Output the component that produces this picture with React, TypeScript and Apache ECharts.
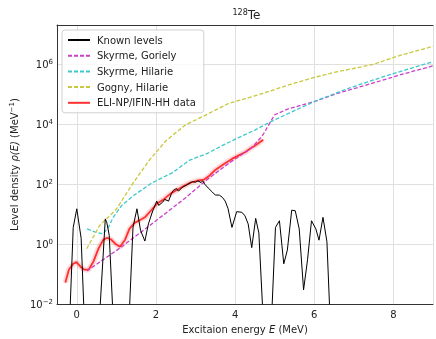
import React, { useEffect, useRef } from 'react';
import * as echarts from 'echarts';

// [E (MeV), rho (MeV^-1)]
const knownLevels: [number, number][] = [
  [-0.18, 0.003], [-0.09, 3.6], [0.0, 15], [0.11, 1.55], [0.19, 0.003],
  [0.57, 0.003], [0.72, 6.9], [0.76, 5.1], [0.82, 1.95], [0.92, 0.003],
  [1.32, 0.003], [1.42, 3.6], [1.52, 15], [1.61, 2.9], [1.72, 1.26], [1.81, 4.7],
  [1.92, 12.9], [2.02, 27], [2.07, 19.5], [2.17, 25], [2.22, 31], [2.32, 27],
  [2.39, 48], [2.44, 62], [2.52, 71], [2.57, 58], [2.67, 79], [2.79, 95],
  [2.92, 120], [3.0, 115], [3.06, 129], [3.14, 112], [3.18, 129], [3.23, 100],
  [3.32, 74], [3.42, 55], [3.5, 43], [3.6, 43], [3.68, 36], [3.75, 27],
  [3.82, 15.5], [3.92, 3.6], [4.04, 12], [4.17, 11.5], [4.25, 8.7], [4.33, 4.7],
  [4.42, 0.76], [4.52, 7.2], [4.6, 2.35], [4.71, 0.003], [4.92, 0.003],
  [5.02, 3.6], [5.12, 6], [5.23, 0.22], [5.32, 0.63], [5.43, 13.5], [5.52, 12.9],
  [5.62, 3.2], [5.73, 0.03], [5.83, 0.3], [5.93, 6], [6.04, 3.2], [6.12, 1.35],
  [6.22, 7.8], [6.32, 1.2], [6.4, 0.003],
];

const skyrmeGoriely: [number, number][] = [
  [0.25, 0.126], [1.08, 0.72], [2.0, 6.0], [2.75, 35], [3.33, 155], [3.9, 560],
  [4.42, 1600], [4.6, 3000], [4.71, 4500], [4.83, 8500], [5.0, 20400],
  [5.33, 31600], [6.0, 56000], [6.58, 105000], [7.42, 219000], [8.25, 468000],
  [9.0, 870000],
];

const skyrmeHilarie: [number, number][] = [
  [0.26, 3.2], [0.47, 2.5], [0.67, 2.2], [0.8, 3.6], [0.92, 7.8], [1.13, 19],
  [1.42, 40], [1.9, 110], [2.42, 240], [2.84, 620], [3.3, 1050], [3.67, 1900],
  [4.08, 3500], [4.5, 6300], [4.92, 12300], [5.5, 28000], [6.0, 56000],
  [6.83, 150000], [7.83, 410000], [9.0, 1200000],
];

const gognyHilarie: [number, number][] = [
  [0.25, 0.7], [0.58, 4.2], [1.0, 14.5], [1.42, 107], [1.83, 620], [2.25, 2750],
  [2.75, 9500], [3.17, 17500], [3.84, 49000], [4.26, 70000], [4.75, 110000],
  [5.4, 210000], [6.0, 360000], [6.5, 525000], [7.5, 980000], [8.08, 1800000],
  [9.0, 3900000],
];

const eliData: [number, number][] = [
  [-0.29, 0.052], [-0.2, 0.14], [-0.09, 0.22], [-0.01, 0.25], [0.09, 0.18],
  [0.19, 0.14], [0.3, 0.14], [0.42, 0.26], [0.55, 0.72], [0.67, 1.4], [0.76, 1.6],
  [0.86, 1.45], [0.99, 0.98], [1.09, 0.81], [1.22, 1.4], [1.33, 3.2], [1.46, 5.1],
  [1.61, 6.5], [1.72, 7.8], [1.87, 12.9], [2.04, 23], [2.21, 32], [2.37, 48],
  [2.54, 65], [2.71, 87], [2.87, 112], [3.04, 129], [3.21, 140], [3.35, 190],
  [3.5, 295], [3.7, 450], [3.92, 690], [4.08, 890], [4.25, 1150], [4.42, 1660],
  [4.5, 1900], [4.71, 3000],
];

const xTicks = [0, 2, 4, 6, 8];
const yDecadesLabeled = [-2, 0, 2, 4, 6];

const FONT = 'DejaVu Sans';
const TXT = '#222';

export default function App() {
  const ref = useRef<HTMLDivElement>(null);
  useEffect(() => {
    const chart = echarts.init(ref.current!, null, { renderer: 'svg' });
    const supRich = {
      b: { fontSize: 10, color: TXT, fontFamily: FONT, lineHeight: 12 },
      sup: { fontSize: 7, color: TXT, fontFamily: FONT, verticalAlign: 'top', lineHeight: 12 },
      i: { fontSize: 10, color: TXT, fontFamily: FONT, fontStyle: 'italic', lineHeight: 12 },
    };
    const dashed = (name: string, color: string, data: [number, number][]) => ({
      name,
      type: 'line',
      data,
      symbol: 'none',
      z: 3,
      lineStyle: { color, width: 1.3, type: [4, 2] },
      itemStyle: { color },
    });
    chart.setOption({
      animation: false,
      textStyle: { fontFamily: FONT },
      graphic: [
        {
          type: 'text',
          x: 246.5,
          y: 15,
          style: {
            text: '{sup|128}{t|Te}',
            align: 'center',
            verticalAlign: 'middle',
            rich: {
              t: { fontSize: 12, fontFamily: FONT, fill: TXT, color: TXT, lineHeight: 14 },
              sup: { fontSize: 8, fontFamily: FONT, fill: TXT, color: TXT, verticalAlign: 'top', lineHeight: 14 },
            },
          },
        },
      ],
      grid: { left: 57, right: 0, top: 25, bottom: 29, containLabel: false },
      legend: {
        left: 62,
        top: 30,
        orient: 'vertical',
        padding: [5, 8, 5, 5],
        itemWidth: 22,
        itemHeight: 10,
        itemGap: 5.7,
        backgroundColor: 'rgba(255,255,255,0.8)',
        borderColor: '#d0d0d0',
        borderWidth: 1,
        borderRadius: 3,
        itemStyle: { opacity: 0 },
        textStyle: { fontSize: 10, color: TXT, fontFamily: FONT, padding: [0, 0, 0, 2] },
        data: ['Known levels', 'Skyrme, Goriely', 'Skyrme, Hilarie', 'Gogny, Hilarie', 'ELI-NP/IFIN-HH data'],
      },
      xAxis: [
        {
          type: 'value',
          min: -0.5,
          max: 9,
          splitNumber: 5,
          name: 'Excitaion energy {i|E} (MeV)',
          nameLocation: 'middle',
          nameGap: 18,
          nameTextStyle: { fontSize: 10, color: TXT, fontFamily: FONT, rich: supRich },
          axisLine: { show: true, onZero: false, lineStyle: { color: '#333', width: 1 } },
          axisTick: { show: false },
          axisLabel: {
            fontSize: 10,
            color: TXT,
            margin: 5,
            formatter: (v: number) => (xTicks.indexOf(v) >= 0 ? String(v) : ''),
          },
          splitLine: { show: true, lineStyle: { color: '#e0e0e0', width: 1 } },
        },
        {
          type: 'value',
          position: 'top',
          min: -0.5,
          max: 9,
          axisLine: { show: true, onZero: false, lineStyle: { color: '#333', width: 1 } },
          axisTick: { show: false },
          axisLabel: { show: false },
          splitLine: { show: false },
        },
      ],
      yAxis: {
        type: 'log',
        logBase: 100,
        min: 0.01,
        max: 2e7,
        name: 'Level density {i|ρ(E)} (MeV{sup|−1})',
        nameLocation: 'middle',
        nameGap: 34,
        nameTextStyle: { fontSize: 10, color: TXT, fontFamily: FONT, rich: supRich },
        axisLine: { show: true, onZero: false, lineStyle: { color: '#333', width: 1 } },
        axisTick: { show: false },
        axisLabel: {
          margin: 4,
          formatter: (v: number) => {
            const l = Math.log10(v);
            const e = Math.round(l);
            if (Math.abs(l - e) > 1e-6 || yDecadesLabeled.indexOf(e) < 0) return '';
            return '{b|10}{sup|' + (e < 0 ? '−' + -e : String(e)) + '}';
          },
          rich: supRich,
        },
        splitLine: { show: true, lineStyle: { color: '#e0e0e0', width: 1 } },
      },
      series: [
        {
          name: 'eli-band',
          type: 'line',
          data: eliData,
          symbol: 'none',
          z: 2,
          silent: true,
          lineStyle: { color: 'rgba(255,70,70,0.2)', width: 5.5 },
        },
        {
          name: 'ELI-NP/IFIN-HH data',
          type: 'line',
          data: eliData,
          symbol: 'none',
          z: 2,
          lineStyle: { color: '#ff3030', width: 1.8 },
          itemStyle: { color: '#ff3030' },
        },
        dashed('Skyrme, Goriely', '#cc3fcc', skyrmeGoriely),
        dashed('Skyrme, Hilarie', '#3cc8cc', skyrmeHilarie),
        dashed('Gogny, Hilarie', '#c8c83c', gognyHilarie),
        {
          name: 'Known levels',
          type: 'line',
          data: knownLevels,
          symbol: 'none',
          z: 4,
          lineStyle: { color: '#000', width: 1 },
          itemStyle: { color: '#000' },
        },
      ],
    });
    return () => chart.dispose();
  }, []);
  return <div ref={ref} style={{ position: 'fixed', left: 0, top: 0, width: 436, height: 339 }} />;
}
